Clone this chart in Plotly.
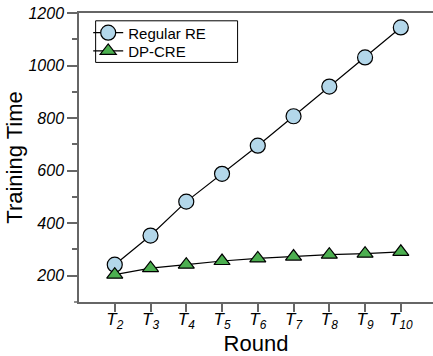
import plotly.graph_objects as go

rounds = [2, 3, 4, 5, 6, 7, 8, 9, 10]
round_labels = ["<i>T<sub>%d</sub></i>" % r for r in rounds]
regular_re = [242, 353, 482, 588, 695, 807, 920, 1031, 1145]
dp_cre = [204, 229, 242, 256, 266, 273, 280, 284, 291]
y_ticks = [200, 400, 600, 800, 1000, 1200]
y_labels = ["<i>%d</i>" % v for v in y_ticks]

FONT = "Liberation Sans"
AXC = "#666666"

fig = go.Figure()
fig.add_trace(go.Scatter(
    x=rounds, y=regular_re, name="Regular RE", mode="lines+markers",
    line=dict(color="black", width=1.2),
    marker=dict(symbol="circle", size=15, color="#b3d7ea",
                line=dict(color="black", width=1.2)),
    legend="legend",
))
fig.add_trace(go.Scatter(
    x=rounds, y=dp_cre, name="DP-CRE", mode="lines+markers",
    line=dict(color="black", width=1.2),
    marker=dict(symbol="triangle-up", size=14, color="#4caf50",
                line=dict(color="black", width=1.2)),
    legend="legend2",
))

leg_common = dict(
    xanchor="left", yanchor="middle", bgcolor="rgba(0,0,0,0)",
    borderwidth=0, font=dict(size=15, family=FONT, color="black"),
    itemwidth=30,
)

fig.update_layout(
    template="none",
    width=433, height=356,
    margin=dict(l=79, r=0, t=13, b=54, autoexpand=False),
    paper_bgcolor="white", plot_bgcolor="white",
    font=dict(family=FONT, color="black"),
    showlegend=True,
    legend=dict(x=0.026, y=0.931, **leg_common),
    legend2=dict(x=0.026, y=0.868, **leg_common),
    xaxis=dict(
        automargin=False,
        range=[1, 10.9], tickvals=rounds, ticktext=round_labels,
        showgrid=False, zeroline=False,
        showline=True, linecolor=AXC, linewidth=1.5, mirror=True,
        ticks="outside", ticklen=8, tickcolor=AXC, tickwidth=1.5,
        ticklabelstandoff=-7,
        tickfont=dict(size=17, family=FONT, style="italic"),
        title=dict(text="Round", font=dict(size=22, family=FONT), standoff=0),
    ),
    yaxis=dict(
        automargin=False,
        range=[100, 1200], tickvals=y_ticks, ticktext=y_labels,
        showgrid=False, zeroline=False,
        showline=True, linecolor=AXC, linewidth=1.5, mirror=False,
        ticks="outside", ticklen=10, tickcolor=AXC, tickwidth=1.5,
        tickfont=dict(size=16, family=FONT, style="italic"),
        minor=dict(tickvals=[300, 500, 700, 900, 1100], ticks="outside",
                   ticklen=5, tickcolor=AXC, tickwidth=1.5),
        title=dict(text="Training Time", font=dict(size=22, family=FONT), standoff=0),
    ),
    shapes=[
        dict(type="line", xref="paper", yref="paper", x0=-0.014, x1=0,
             y0=0, y1=0, line=dict(color=AXC, width=1.5)),
        dict(type="rect", xref="paper", yref="paper", x0=0.047, x1=0.448,
             y0=0.829, y1=0.973, line=dict(color="black", width=1),
             fillcolor="rgba(0,0,0,0)"),
    ],
)

fig.write_html(
    "out.html",
    config={"displayModeBar": False},
    post_script="document.body.style.margin='0';document.body.style.overflow='hidden';",
)
